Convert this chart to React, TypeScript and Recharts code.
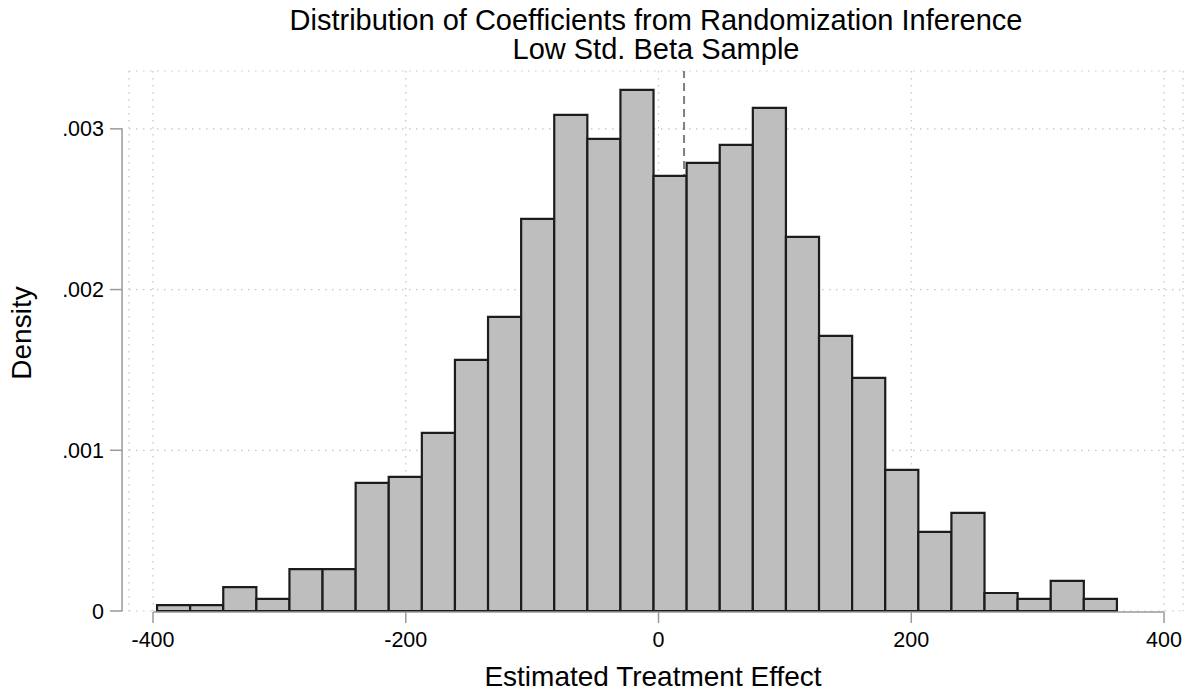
import React from 'react'
import { ComposedChart, XAxis, YAxis, CartesianGrid, ReferenceArea, ReferenceLine } from 'recharts'

// histogram bins (estimated treatment effect), density per bin
const binStart = -396.8
const binWidth = 26.19
const density = [
  0.000037, 0.000037, 0.000149, 0.000075, 0.000261, 0.000261, 0.000797, 0.000834,
  0.001108, 0.001562, 0.00183, 0.00244, 0.003087, 0.002938, 0.003243, 0.002707,
  0.002788, 0.0029, 0.003131, 0.002328, 0.001712, 0.00145, 0.000878, 0.000492,
  0.00061, 0.000112, 0.000075, 0.000187, 0.000075,
]
const xTicks = [-400, -200, 0, 200, 400]
const yTicks = [0, 0.001, 0.002, 0.003]
const observedEffect = 20.2

const bins = density.map((d, i) => ({
  x0: binStart + i * binWidth,
  x1: binStart + (i + 1) * binWidth,
  density: d,
}))

const FONT = '"Liberation Sans", Arial, Helvetica, sans-serif'
const axisColor = '#9a9a9a'
const yAxisPos = -424.5
const xAxisPos = -0.000006

const fmtY = (v: number) => (v === 0 ? '0' : v.toFixed(3).replace(/^0/, ''))

function XTick({ x, y, payload }: any) {
  return (
    <g>
      <line x1={x} x2={x} y1={y + 1} y2={y + 12} stroke={axisColor} strokeWidth={1.5} />
      <text x={x} y={y + 36} textAnchor="middle" fontSize={21.5} fontFamily={FONT} fill="#000">
        {payload.value}
      </text>
    </g>
  )
}

function YTick({ x, y, payload }: any) {
  return (
    <g>
      <line x1={x - 19} x2={x - 6.5} y1={y} y2={y} stroke={axisColor} strokeWidth={1.5} />
      <text x={x - 25} y={y + 7.5} textAnchor="end" fontSize={21.5} fontFamily={FONT} fill="#000">
        {fmtY(payload.value)}
      </text>
    </g>
  )
}

export default function App() {
  return (
    <div style={{ position: 'absolute', left: 0, top: 0, width: 1191, height: 696, fontFamily: FONT, background: '#fff' }}>
      <div
        style={{
          position: 'absolute', left: 256, width: 800, top: 6, textAlign: 'center',
          fontSize: 29, lineHeight: '29px', color: '#000',
        }}
      >
        <div>Distribution of Coefficients from Randomization Inference</div>
        <div>Low Std. Beta Sample</div>
      </div>
      <div
        style={{
          position: 'absolute', left: 353, width: 600, top: 663, textAlign: 'center',
          fontSize: 28, lineHeight: '28px', color: '#000',
        }}
      >
        Estimated Treatment Effect
      </div>
      <div
        style={{
          position: 'absolute', left: 22 - 100, width: 200, top: 333 - 14, height: 28, textAlign: 'center',
          fontSize: 28, lineHeight: '28px', color: '#000', transform: 'rotate(-90deg)',
        }}
      >
        Density
      </div>
      <ComposedChart
        width={1191}
        height={696}
        data={bins}
        margin={{ top: 71, right: 8, bottom: 45, left: 69 }}
      >
        <CartesianGrid stroke="#c4c4c4" strokeDasharray="1.5 5.5" strokeWidth={1.2} />
        <XAxis
          type="number"
          dataKey="x0"
          domain={[-419, 415]}
          ticks={xTicks}
          allowDataOverflow
          height={40}
          axisLine={false}
          tickLine={false}
          tickSize={0}
          tickMargin={0}
          interval={0}
          tick={<XTick />}
        />
        <YAxis
          type="number"
          dataKey="density"
          domain={[0, 0.00336]}
          ticks={yTicks}
          allowDataOverflow
          width={60}
          axisLine={false}
          tickLine={false}
          tickSize={0}
          tickMargin={0}
          interval={0}
          tick={<YTick />}
        />
        <ReferenceLine
          x={observedEffect}
          stroke="#7f7f7f"
          strokeWidth={2}
          strokeDasharray="8 5"
          zIndex={50}
        />
        {bins.map((b, i) => (
          <ReferenceArea
            key={i}
            x1={b.x0}
            x2={b.x1}
            y1={0}
            y2={b.density}
            fill="#bebebe"
            fillOpacity={1}
            stroke="#1c1c1c"
            strokeWidth={2.2}
            zIndex={100}
          />
        ))}
        <ReferenceLine
          segment={[{ x: yAxisPos, y: 0 }, { x: yAxisPos, y: 0.003 }]}
          stroke={axisColor}
          strokeWidth={1.5}
          ifOverflow="visible"
          zIndex={500}
        />
        <ReferenceLine
          segment={[{ x: -400, y: xAxisPos }, { x: 400, y: xAxisPos }]}
          stroke={axisColor}
          strokeWidth={1.5}
          ifOverflow="visible"
          zIndex={500}
        />
      </ComposedChart>
    </div>
  )
}
